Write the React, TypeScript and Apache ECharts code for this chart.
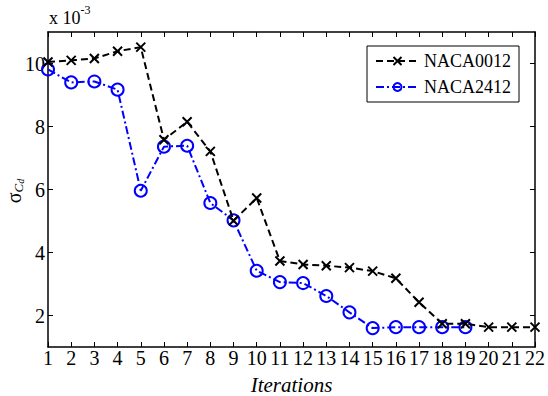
import React, { useEffect, useRef } from "react";
import * as echarts from "echarts";

const iterations0012 = [1, 2, 3, 4, 5, 6, 7, 8, 9, 10, 11, 12, 13, 14, 15, 16, 17, 18, 19, 20, 21, 22];
const naca0012 = [10.05, 10.1, 10.16, 10.39, 10.52, 7.58, 8.15, 7.21, 5.01, 5.73, 3.73, 3.62, 3.58, 3.52, 3.41, 3.18, 2.42, 1.74, 1.74, 1.63, 1.63, 1.63];
const iterations2412 = [1, 2, 3, 4, 5, 6, 7, 8, 9, 10, 11, 12, 13, 14, 15, 16, 17, 18, 19];
const naca2412 = [9.81, 9.4, 9.43, 9.17, 5.96, 7.36, 7.39, 5.57, 5.02, 3.42, 3.06, 3.03, 2.62, 2.1, 1.6, 1.63, 1.63, 1.63, 1.63];
const yTicks = [2, 4, 6, 8, 10];

const FONT = "Liberation Serif";
const CROSS = "path://M0,0L10,10M10,0L0,10";

export default function App() {
  const ref = useRef<HTMLDivElement>(null);
  useEffect(() => {
    if (!ref.current) return;
    const chart = echarts.init(ref.current, null, { renderer: "svg" });
    const axisCommon = {
      axisLine: { show: true, lineStyle: { color: "#000", width: 1.5 } },
      axisTick: { show: true, inside: true, length: 5, lineStyle: { color: "#000", width: 1 } },
      splitLine: { show: false },
    };
    chart.setOption({
      animation: false,
      backgroundColor: "#fff",
      textStyle: { fontFamily: FONT },
      grid: { left: 48, right: 13, top: 32, bottom: 49, containLabel: false, outerBoundsMode: "none" },
      graphic: [
        {
          type: "text",
          left: 49,
          top: 4,
          style: {
            text: "{a|x 10}{b|-3}",
            rich: {
              a: { fontFamily: FONT, fontSize: 18, fill: "#000", padding: [8, 0, 0, 0] },
              b: { fontFamily: FONT, fontSize: 12, fill: "#000", padding: [0, 0, 8, 0] },
            },
          },
        },
        {
          type: "text",
          x: 14,
          y: 191,
          rotation: Math.PI / 2,
          style: {
            text: "{s|σ}{c|C}{d|d}",
            align: "center",
            verticalAlign: "middle",
            rich: {
              s: { fontFamily: FONT, fontSize: 20, fill: "#000" },
              c: { fontFamily: FONT, fontSize: 13, fontStyle: "italic", fill: "#000", padding: [8, 0, 0, 0] },
              d: { fontFamily: FONT, fontSize: 10, fontStyle: "italic", fill: "#000", padding: [12, 0, 0, 0] },
            },
          },
        },
      ],
      legend: {
        left: 367,
        top: 46,
        orient: "vertical",
        backgroundColor: "#fff",
        borderColor: "#000",
        borderWidth: 1,
        borderRadius: 0,
        padding: [6, 8, 6, 8],
        itemGap: 8,
        itemWidth: 43,
        itemHeight: 10,
        textStyle: { fontFamily: FONT, fontSize: 18, color: "#000" },
        data: ["NACA0012", "NACA2412"],
      },
      xAxis: [
        {
          type: "value",
          min: 1,
          max: 22,
          interval: 1,
          ...axisCommon,
          axisLabel: { fontFamily: FONT, fontSize: 20, color: "#000", margin: 1 },
          name: "Iterations",
          nameLocation: "middle",
          nameGap: 27,
          nameTextStyle: { fontFamily: FONT, fontSize: 21, fontStyle: "italic", color: "#000" },
        },
        {
          type: "value",
          position: "top",
          min: 1,
          max: 22,
          interval: 1,
          ...axisCommon,
          axisLabel: { show: false },
        },
      ],
      yAxis: [
        {
          type: "value",
          min: 1,
          max: 11,
          ...axisCommon,
          axisTick: { ...axisCommon.axisTick, customValues: yTicks },
          axisLabel: { fontFamily: FONT, fontSize: 20, color: "#000", margin: 3, customValues: yTicks },
        },
        {
          type: "value",
          position: "right",
          min: 1,
          max: 11,
          ...axisCommon,
          axisTick: { ...axisCommon.axisTick, customValues: yTicks },
          axisLabel: { show: false },
        },
      ],
      series: [
        {
          name: "NACA0012",
          type: "line",
          data: iterations0012.map((x, i) => [x, naca0012[i]]),
          symbol: CROSS,
          symbolSize: 9,
          lineStyle: { color: "#000", width: 2, type: [7, 4] },
          itemStyle: { color: "#000", borderColor: "#000", borderWidth: 2 },
          z: 3,
        },
        {
          name: "NACA2412",
          type: "line",
          data: iterations2412.map((x, i) => [x, naca2412[i]]),
          symbol: "circle",
          symbolSize: 12,
          lineStyle: { color: "#0000ff", width: 2, type: [8, 3, 2, 3] },
          itemStyle: { color: "transparent", borderColor: "#0000ff", borderWidth: 2 },
          z: 2,
        },
      ],
    });
    return () => chart.dispose();
  }, []);
  return <div ref={ref} style={{ width: 548, height: 396, position: "absolute", left: 0, top: 0 }} />;
}
